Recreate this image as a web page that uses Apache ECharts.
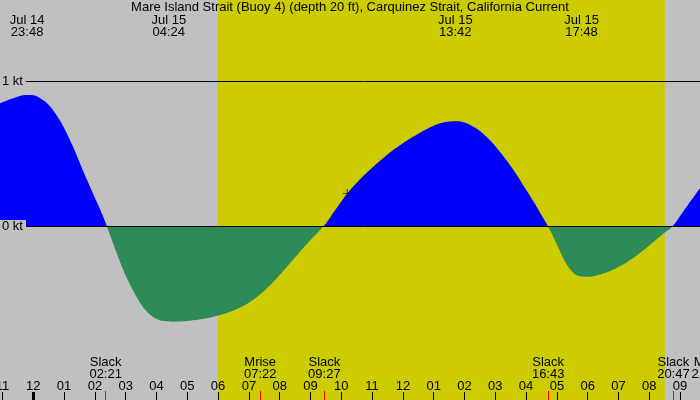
<!DOCTYPE html>
<html>
<head>
<meta charset="utf-8">
<script src="https://cdn.jsdelivr.net/npm/echarts@6/dist/echarts.min.js"></script>
<style>
  html, body { margin: 0; padding: 0; background: #c0c0c0; }
  #main { width: 700px; height: 400px; }
</style>
</head>
<body>
<div id="main"></div>
<script>
// 潮流图 (current, knots)

const chartTitle = 'Mare Island Strait (Buoy 4) (depth 20 ft), Carquinez Strait, California Current'

// hours from midnight Jul 15 (negative = Jul 14), every quarter hour
const hours = [-1.1, -1, -0.75, -0.5, -0.25, 0, 0.25, 0.5, 0.75, 1, 1.25, 1.5, 1.75, 2, 2.25, 2.5, 2.75,
  3, 3.25, 3.5, 3.75, 4, 4.25, 4.5, 4.75, 5, 5.25, 5.5, 5.75, 6, 6.25, 6.5, 6.75, 7, 7.25, 7.5, 7.75,
  8, 8.25, 8.5, 8.75, 9, 9.25, 9.5, 9.75, 10, 10.25, 10.5, 10.75, 11, 11.25, 11.5, 11.75, 12, 12.25,
  12.5, 12.75, 13, 13.25, 13.5, 13.75, 14, 14.25, 14.5, 14.75, 15, 15.25, 15.5, 15.75, 16, 16.25,
  16.5, 16.75, 17, 17.25, 17.5, 17.75, 18, 18.25, 18.5, 18.75, 19, 19.25, 19.5, 19.75, 20, 20.25,
  20.5, 20.75, 21, 21.25, 21.5, 21.75]
// knots, + flood / - ebb
const speed = [0.846, 0.853, 0.874, 0.892, 0.904, 0.902, 0.878, 0.835, 0.765, 0.676, 0.565, 0.44, 0.316, 0.195,
  0.075, -0.068, -0.21,
  -0.342, -0.449, -0.54, -0.604, -0.641, -0.656, -0.66, -0.659, -0.655, -0.649, -0.641, -0.631, -0.618, -0.602,
  -0.583, -0.559, -0.529, -0.492, -0.447, -0.395,
  -0.338, -0.278, -0.216, -0.155, -0.096, -0.041, 0.017, 0.094, 0.169, 0.239, 0.298, 0.352, 0.402, 0.449,
  0.493, 0.534, 0.571, 0.605,
  0.637, 0.666, 0.692, 0.71, 0.72, 0.723, 0.714, 0.69, 0.655, 0.608, 0.55, 0.485, 0.414, 0.335, 0.25, 0.166,
  0.075, -0.018, -0.128, -0.24, -0.315, -0.347, -0.35, -0.343, -0.328, -0.308, -0.283, -0.253, -0.218, -0.178,
  -0.135, -0.09,
  -0.045, -0.003, 0.069, 0.145, 0.217, 0.29]

// max flood / max ebb (top labels)
const peakDays = ['Jul 14', 'Jul 15', 'Jul 15', 'Jul 15']
const peakTimes = ['23:48', '04:24', '13:42', '17:48']

// slack + moon events (bottom labels)
const eventNames = ['Slack', 'Mrise', 'Slack', 'Slack', 'Slack', 'Mset']
const eventTimes = ['02:21', '07:22', '09:27', '16:43', '20:47', '21:54']

const hourTicks = [-1, 0, 1, 2, 3, 4, 5, 6, 7, 8, 9, 10, 11, 12, 13, 14, 15, 16, 17, 18, 19, 20, 21, 22]
const midnightTicks = [0]
const daylight = ['06:00', '20:30']
const levels = [0, 1]
const nowMark = [10.19, 0.225]

const toHours = (s, day) => {
  const [h, m] = s.split(':').map(Number)
  return h + m / 60 - (day === 'Jul 14' ? 24 : 0)
}
const pad = n => (n < 10 ? '0' : '') + n

const peakH = peakTimes.map((t, i) => toHours(t, peakDays[i]))
const eventH = eventTimes.map(t => toHours(t))
const curve = hours.map((h, i) => [h, speed[i]])

const findIdx = (arr, v) => arr.findIndex(a => Math.abs(a - v) < 1e-6)

const xMin = -1.081
const xMax = 22.62
const lineStart = -0.24
const font = 'Liberation Sans'

const axisBase = {
  type: 'value', min: xMin, max: xMax, gridIndex: 0, z: 10,
  axisLine: { show: false, onZero: false }, splitLine: { show: false }
}

const myChart = echarts.init(document.getElementById('main'))
myChart.setOption({
  animation: false,
  backgroundColor: '#c0c0c0',
  textStyle: { fontFamily: font },
  title: {
    text: chartTitle, left: 'center', top: 1, padding: 0, z: 10,
    textStyle: { fontSize: 13, fontWeight: 'normal', color: '#000', fontFamily: font }
  },
  grid: { left: 0, right: -30, top: 0, bottom: 0, outerBoundsMode: 'none' },
  xAxis: [
    {
      ...axisBase, position: 'bottom',
      axisTick: { inside: true, length: 8, customValues: hourTicks, lineStyle: { color: '#000' } },
      axisLabel: {
        inside: true, margin: 7, customValues: hourTicks, color: '#000', fontSize: 13, fontFamily: font,
        formatter: v => pad(((v % 12) + 12) % 12 || 12)
      }
    },
    {
      ...axisBase, position: 'bottom',
      axisTick: { inside: true, length: 8, customValues: midnightTicks, lineStyle: { color: '#000', width: 3 } },
      axisLabel: { show: false }
    },
    {
      ...axisBase, position: 'bottom',
      axisTick: { inside: true, length: 9, customValues: eventH, lineStyle: { color: '#ff0000' } },
      axisLabel: {
        inside: true, margin: 20, customValues: eventH, color: '#000', fontSize: 13, lineHeight: 12, fontFamily: font,
        formatter: v => { const i = findIdx(eventH, v); return eventNames[i] + '\n' + eventTimes[i] }
      }
    },
    {
      ...axisBase, position: 'top',
      axisTick: { show: false },
      axisLabel: {
        inside: true, margin: 14, customValues: peakH, color: '#000', fontSize: 13, lineHeight: 12, fontFamily: font,
        formatter: v => { const i = findIdx(peakH, v); return peakDays[i] + '\n' + peakTimes[i] }
      }
    }
  ],
  yAxis: {
    type: 'value', min: -1.2, max: 1.5586, position: 'left', z: 10,
    axisLine: { show: false, onZero: false }, axisTick: { show: false }, splitLine: { show: false },
    axisLabel: {
      inside: true, margin: 0, customValues: levels, color: '#000', fontSize: 13, fontFamily: font,
      lineHeight: 12, padding: [0, 3, 0, 2], backgroundColor: '#c0c0c0',
      formatter: '{value} kt'
    }
  },
  visualMap: [
    {
      type: 'piecewise', show: false, seriesIndex: 1, dimension: 1,
      pieces: [{ min: 0, max: 5, color: '#0000ff' }, { min: -5, max: 0, color: 'rgba(0,0,0,0)' }]
    },
    {
      type: 'piecewise', show: false, seriesIndex: 3, dimension: 1,
      pieces: [{ min: 0, max: 5, color: 'rgba(0,0,0,0)' }, { min: -5, max: 0, color: '#2e8b57' }]
    }
  ],
  series: [
    {
      // 白天
      type: 'line', data: [], z: 1, silent: true,
      markArea: {
        silent: true, itemStyle: { color: '#cccc00' },
        data: [[{ xAxis: toHours(daylight[0]) }, { xAxis: toHours(daylight[1]) }]]
      }
    },
    {
      // flood
      type: 'line', data: curve, smooth: 0.4, symbol: 'none', z: 2, silent: true,
      lineStyle: { width: 0 }, areaStyle: { opacity: 1 }
    },
    {
      type: 'line', data: [], z: 3, silent: true,
      markLine: {
        silent: true, symbol: 'none', label: { show: false },
        lineStyle: { color: '#000', width: 1, type: 'solid' },
        data: levels.map(l => [{ coord: [lineStart, l] }, { coord: [xMax, l] }])
      }
    },
    {
      // ebb
      type: 'line', data: curve, smooth: 0.4, symbol: 'none', z: 4, silent: true,
      lineStyle: { width: 0 }, areaStyle: { opacity: 1 }
    },
    {
      type: 'scatter', data: [nowMark], z: 5, silent: true,
      symbol: 'path://M0,4.5h10v1h-10zM4.5,0h1v10h-1z', symbolSize: 9,
      itemStyle: { color: '#000' }
    }
  ]
})
</script>
</body>
</html>
